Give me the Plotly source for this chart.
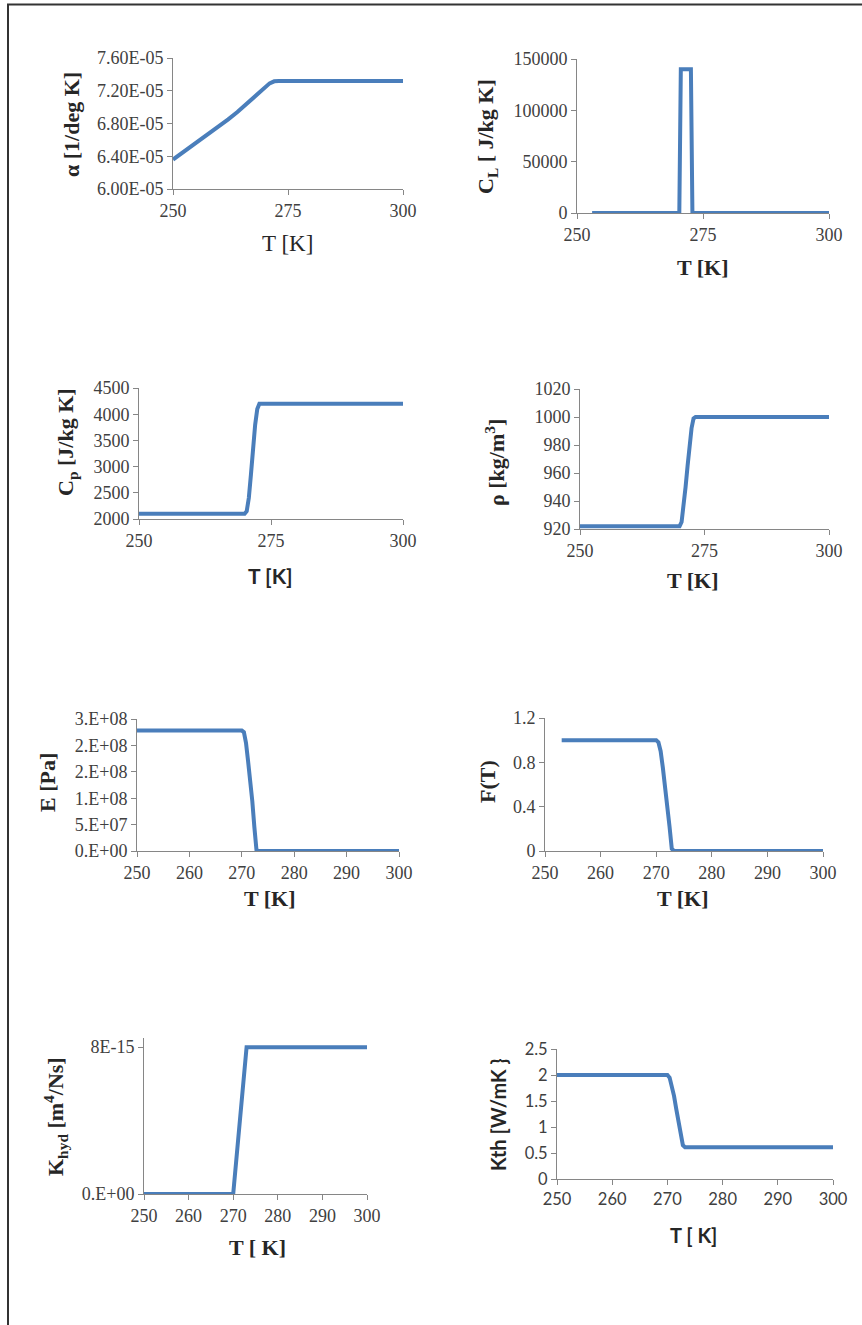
import plotly.graph_objects as go

W, H = 862, 1325

# ---------------- data ----------------
alpha_T = [250, 252, 254, 256, 258, 260, 262, 264, 266, 268, 270, 271, 272, 273, 280, 290, 300]
alpha_v = [6.36e-5, 6.44e-5, 6.53e-5, 6.61e-5, 6.69e-5, 6.77e-5, 6.85e-5, 6.94e-5, 7.04e-5,
           7.15e-5, 7.25e-5, 7.29e-5, 7.315e-5, 7.32e-5, 7.32e-5, 7.32e-5, 7.32e-5]

CL_T = [253, 270.3, 270.6, 272.6, 272.9, 300]
CL_v = [0, 0, 140000, 140000, 0, 0]

step_T = [250, 270, 270.4, 270.8, 271.2, 271.6, 272.0, 272.4, 272.8, 273.2, 300]
Cp_v = [2100, 2100, 2150, 2400, 2850, 3350, 3800, 4100, 4200, 4200, 4200]
rho_v = [922, 922, 925, 935, 950, 965, 980, 992, 999, 1000, 1000]
E_v = [2.28e8, 2.28e8, 2.25e8, 2.05e8, 1.7e8, 1.35e8, 0.95e8, 0.45e8, 0.02e8, 0, 0]
F_T = [253, 270, 270.4, 270.8, 271.2, 271.6, 272.0, 272.4, 272.8, 273.2, 300]
F_v = [1, 1, 0.98, 0.9, 0.75, 0.59, 0.42, 0.22, 0.02, 0, 0]
Kth_v = [2, 2, 1.95, 1.8, 1.6, 1.35, 1.1, 0.85, 0.65, 0.61, 0.61]

Khyd_T = [250, 270, 273, 300]
Khyd_v = [0, 0, 8e-15, 8e-15]

alpha_ticks = [6.0e-5, 6.4e-5, 6.8e-5, 7.2e-5, 7.6e-5]
alpha_text = ["6.00E-05", "6.40E-05", "6.80E-05", "7.20E-05", "7.60E-05"]
E_ticks = [0, 5e7, 1e8, 1.5e8, 2e8, 2.5e8]
E_text = ["0.E+00", "5.E+07", "1.E+08", "2.E+08", "2.E+08", "3.E+08"]
F_ticks = [0, 0.4, 0.8, 1.2]
F_text = ["0", "0.4", "0.8", "1.2"]
Khyd_ticks = [0, 8e-15]
Khyd_text = ["0.E+00", "8E-15"]
Kth_ticks = [0, 0.5, 1, 1.5, 2, 2.5]
Kth_text = ["0", "0.5", "1", "1.5", "2", "2.5"]

# ---------------- styling ----------------
SERIF = "Liberation Serif, Times New Roman, serif"
SANS = "Lato, Carlito, Liberation Sans, sans-serif"
LINE_COLOR = "#4A7EBB"
AX_COLOR = "#868686"
TXT = "#404040"

fig = go.Figure()

# panel pixel boxes: (x0, x1, ytop, ybottom)
panels = [
    dict(box=(173, 403, 58, 189), T=alpha_T, v=alpha_v, xr=[250, 300], xt=[250, 275, 300],
         yr=[6.0e-5, 7.6e-5], yt=alpha_ticks, ytext=alpha_text, font=SERIF),
    dict(box=(577, 829, 59, 213), T=CL_T, v=CL_v, xr=[250, 300], xt=[250, 275, 300],
         yr=[0, 150000], yt=[0, 50000, 100000, 150000], ytext=["0", "50000", "100000", "150000"], font=SERIF),
    dict(box=(139, 403, 388, 519), T=step_T, v=Cp_v, xr=[250, 300], xt=[250, 275, 300],
         yr=[2000, 4500], yt=[2000, 2500, 3000, 3500, 4000, 4500],
         ytext=["2000", "2500", "3000", "3500", "4000", "4500"], font=SERIF),
    dict(box=(580, 829, 389, 529), T=step_T, v=rho_v, xr=[250, 300], xt=[250, 275, 300],
         yr=[920, 1020], yt=[920, 940, 960, 980, 1000, 1020],
         ytext=["920", "940", "960", "980", "1000", "1020"], font=SERIF),
    dict(box=(137, 399, 719, 851), T=step_T, v=E_v, xr=[250, 300], xt=[250, 260, 270, 280, 290, 300],
         yr=[0, 2.5e8], yt=E_ticks, ytext=E_text, font=SERIF),
    dict(box=(545, 823, 718, 851), T=F_T, v=F_v, xr=[250, 300], xt=[250, 260, 270, 280, 290, 300],
         yr=[0, 1.2], yt=F_ticks, ytext=F_text, font=SERIF),
    dict(box=(144, 367, 1038, 1194), T=Khyd_T, v=Khyd_v, xr=[250, 300], xt=[250, 260, 270, 280, 290, 300],
         yr=[0, 8.5e-15], yt=Khyd_ticks, ytext=Khyd_text, font=SERIF),
    dict(box=(557, 833, 1049, 1179), T=step_T, v=Kth_v, xr=[250, 300], xt=[250, 260, 270, 280, 290, 300],
         yr=[0, 2.5], yt=Kth_ticks, ytext=Kth_text, font=SANS),
]

layout_axes = {}
for i, p in enumerate(panels, start=1):
    x0, x1, yt_, yb_ = p["box"]
    xa = "xaxis" if i == 1 else f"xaxis{i}"
    ya = "yaxis" if i == 1 else f"yaxis{i}"
    fig.add_trace(go.Scatter(x=p["T"], y=p["v"], mode="lines",
                             line=dict(color=LINE_COLOR, width=4),
                             xaxis=f"x{i}" if i > 1 else "x", yaxis=f"y{i}" if i > 1 else "y",
                             showlegend=False, hoverinfo="skip"))
    tickfont = dict(family=p["font"], size=18 if p["font"] == SERIF else 16.5, color=TXT)
    layout_axes[xa] = dict(domain=[x0 / W, x1 / W], range=p["xr"], tickvals=p["xt"],
                           anchor=f"y{i}" if i > 1 else "y",
                           showline=True, linecolor=AX_COLOR, linewidth=1,
                           ticks="outside", ticklen=5, tickcolor=AX_COLOR,
                           showgrid=False, zeroline=False, tickfont=tickfont, fixedrange=True,
                           automargin=False)
    layout_axes[ya] = dict(domain=[1 - yb_ / H, 1 - yt_ / H], range=p["yr"], tickvals=p["yt"],
                           ticktext=p["ytext"], anchor=f"x{i}" if i > 1 else "x",
                           showline=True, linecolor=AX_COLOR, linewidth=1,
                           ticks="outside", ticklen=5, tickcolor=AX_COLOR,
                           showgrid=False, zeroline=False, tickfont=tickfont, fixedrange=True,
                           automargin=False)

# axis titles as annotations: (text, x px, y px, angle, font, size)
titles = [
    ("<b>α [1/deg K]</b>", 72, 125, -90, SERIF, 22),
    ("T [K]", 287, 243, 0, SERIF, 23),
    ("<b>C<sub>L</sub> [ J/kg K]</b>", 487, 137, -90, SERIF, 22),
    ("<b>T [K]</b>", 703, 267, 0, SERIF, 22),
    ("<b>C<sub>p</sub> [J/kg K]</b>", 67, 442, -90, SERIF, 22),
    ("<b>T [K]</b>", 270, 575, 0, SANS, 21),
    ("<b>ρ [kg/m<sup>3</sup>]</b>", 495, 463, -90, SERIF, 22),
    ("<b>T [K]</b>", 693, 580, 0, SERIF, 22),
    ("<b>E [Pa]</b>", 47, 783, -90, SERIF, 22),
    ("<b>T [K]</b>", 270, 898, 0, SERIF, 22),
    ("<b>F(T)</b>", 487, 782, -90, SERIF, 22),
    ("<b>T [K]</b>", 683, 898, 0, SERIF, 22),
    ("<b>K<sub>hyd</sub> [m<sup>4</sup>/Ns]</b>", 55, 1117, -90, SERIF, 22),
    ("<b>T [ K]</b>", 257, 1247, 0, SERIF, 22),
    ("<b>Kth [W/mK }</b>", 498, 1115, -90, SANS, 20),
    ("<b>T [ K]</b>", 693, 1235, 0, SANS, 20),
]
annotations = []
for text, xp, yp, ang, fam, size in titles:
    annotations.append(dict(text=text, x=xp / W, y=1 - yp / H, xref="paper", yref="paper",
                            xanchor="center", yanchor="middle", showarrow=False, textangle=ang,
                            font=dict(family=fam, size=size, color="#262626")))

shapes = [dict(type="rect", xref="paper", yref="paper", x0=8 / W, x1=1.02, y0=-0.02, y1=1 - 4.5 / H,
               line=dict(color="#333333", width=2), fillcolor="rgba(0,0,0,0)")]

fig.update_layout(width=W, height=H,
                  margin=dict(l=0, r=0, t=0, b=0, pad=0, autoexpand=False),
                  paper_bgcolor="white", plot_bgcolor="white",
                  annotations=annotations, shapes=shapes, **layout_axes)

fig.write_html("out.html", config={"displayModeBar": False},
               post_script="document.body.style.margin='0';document.body.style.overflow='hidden';")
